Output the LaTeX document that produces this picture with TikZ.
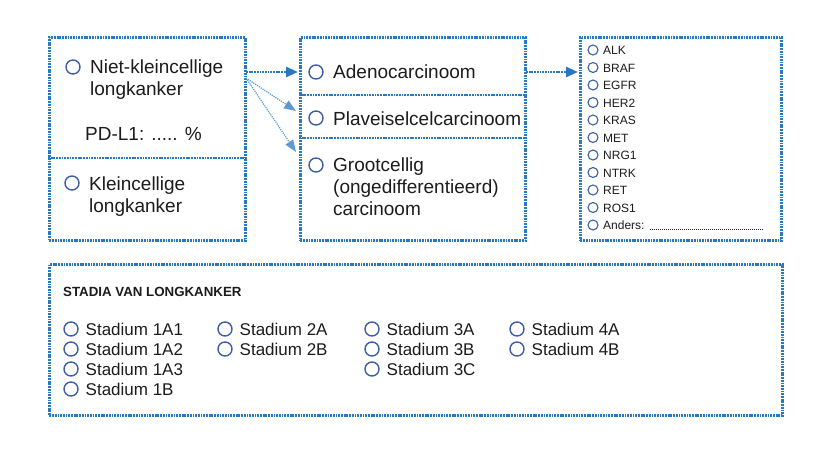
\documentclass[tikz,border=0pt]{standalone}
\usepackage{fontspec}
\setmainfont{Liberation Sans}
\usetikzlibrary{arrows.meta}
\definecolor{frameblue}{HTML}{2A78C2}
\definecolor{ringblue}{HTML}{3D5FA6}
\definecolor{ink}{HTML}{1C1C1C}

\begin{document}
\begin{tikzpicture}[x=1pt,y=-1pt,
    frame/.style={draw=frameblue,line width=2.8pt,dash pattern=on 1.8pt off 0.9pt,
                  anchor=north west,inner sep=0pt},
    divider/.style={draw=frameblue,line width=2.8pt,dash pattern=on 1.8pt off 0.9pt},
    ring/.style={draw=ringblue,line width=1.4pt},
    big/.style={text=ink,inner sep=0pt,anchor=base west,align=left,
                font=\fontsize{19}{22}\selectfont},
    mid/.style={text=ink,inner sep=0pt,anchor=base west,font=\fontsize{17}{20}\selectfont},
    small/.style={text=ink,inner sep=0pt,anchor=base west,font=\fontsize{12}{14}\selectfont},
    flow/.style={frameblue,line width=2.6pt,dash pattern=on 1.8pt off 0.9pt,
                 -{Triangle[length=12pt,width=10pt]}},
    thinflow/.style={frameblue!75,line width=1.2pt,densely dotted,
                 -{Triangle[length=12pt,width=9pt]}}]

  % Page
  \useasboundingbox[fill=white] (0,0) rectangle (825,453);

  % Frames
  \node[frame,minimum width=196pt,minimum height=203pt] (typebox) at (48,36) {};
  \node[frame,minimum width=225pt,minimum height=203pt] (histbox) at (299,36) {};
  \node[frame,minimum width=201pt,minimum height=203pt] (genebox) at (579,36) {};
  \node[frame,minimum width=733pt,minimum height=151pt] (stagebox) at (48,263) {};
  \draw[divider] (typebox.west |- 0,158) -- (typebox.east |- 0,158);
  \draw[divider] (histbox.west |- 0,95) -- (histbox.east |- 0,95);
  \draw[divider] (histbox.west |- 0,138) -- (histbox.east |- 0,138);

  % Tumour type (multi-line nodes sit on their last baseline)
  \draw[ring] (73,67) circle[radius=7];
  \node[big] (nsclc) at (90,95.5) {Niet-kleincellige\\longkanker};
  \node[big] (pdl1) at (85,140) {PD-L1: ..... \%};
  \draw[ring] (72,183) circle[radius=7];
  \node[big] (sclc) at (89,212) {Kleincellige\\longkanker};

  % Histology
  \draw[ring] (316,72) circle[radius=7];
  \node[big] (adeno) at (333,78) {Adenocarcinoom};
  \draw[ring] (316,118) circle[radius=7];
  \node[big] (plav) at (333,125) {Plaveiselcelcarcinoom};
  \draw[ring] (316,165) circle[radius=7];
  \node[big] (groot) at (333,215) {Grootcellig\\(ongedifferentieerd)\\carcinoom};

  % Arrows
  \coordinate (from1) at (246,72);
  \coordinate (from2) at (246,78);
  \coordinate (to1) at (298,72);
  \coordinate (to2) at (296,111);
  \coordinate (to3) at (296,152);
  \coordinate (from4) at (526,72);
  \coordinate (to4) at (578,72);
  \draw[flow] (from1) -- (to1);
  \draw[thinflow] (from2) -- (to2);
  \draw[thinflow] (from2) -- (to3);
  \draw[flow] (from4) -- (to4);

  % Mutations
  \foreach \g [count=\i from 0] in {ALK,BRAF,EGFR,HER2,KRAS,MET,NRG1,NTRK,RET,ROS1,Anders:}{
    \draw[ring,line width=1.1pt] (593,{50+17.5*\i}) circle[radius=5];
    \node[small] (gene\i) at (603,{54.5+17.5*\i}) {\g};
  }
  \draw[ink,line width=0.6pt,dash pattern=on 0.6pt off 1.4pt]
    ([xshift=5pt]gene10.base east) -- (762,229.5);

  % Stages
  \node[text=ink,inner sep=0pt,anchor=base west,font=\fontsize{13.3}{15}\selectfont\bfseries]
    (stadia) at (63,296) {STADIA VAN LONGKANKER};
  \foreach \cx/\lst in {71/{1A1,1A2,1A3,1B},225/{2A,2B},372/{3A,3B,3C},517/{4A,4B}}{
    \foreach \s [count=\i from 0] in \lst {
      \draw[ring] (\cx,{329+20*\i}) circle[radius=7];
      \node[mid] (st\s) at (\cx+14.5,{335+20*\i}) {Stadium \s};
    }
  }
\end{tikzpicture}
\end{document}
